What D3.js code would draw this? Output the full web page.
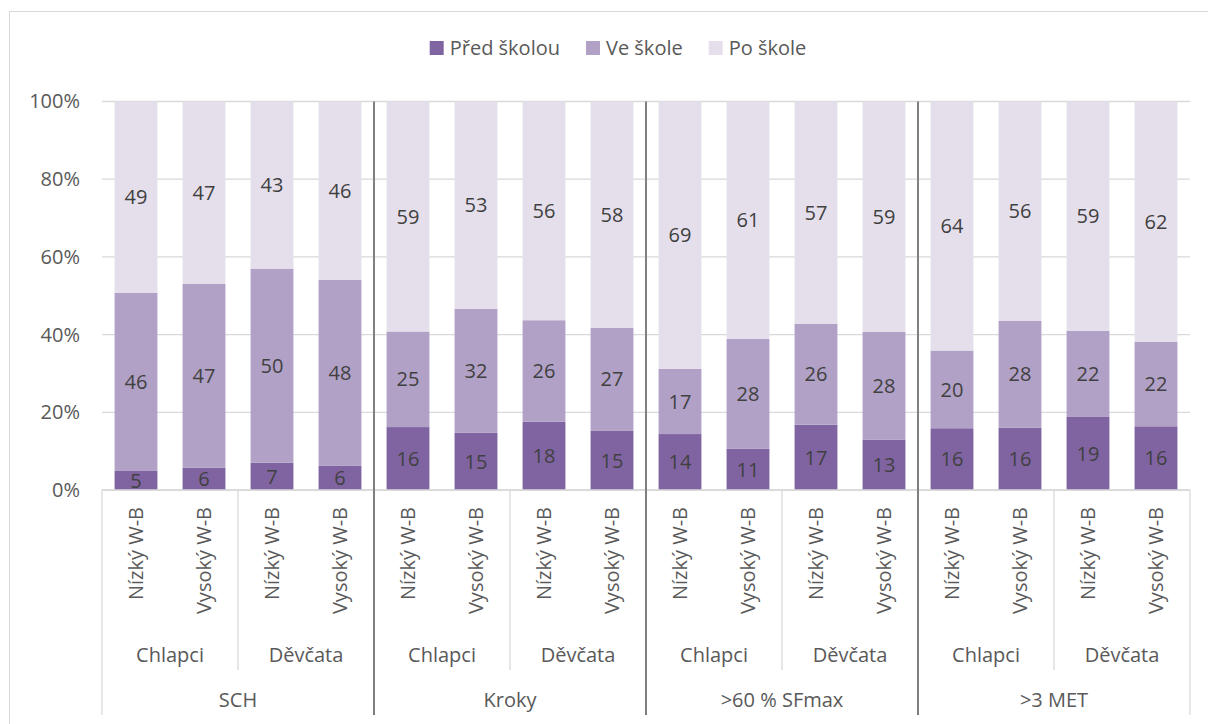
<!DOCTYPE html>
<html><head><meta charset="utf-8">
<script src="https://cdn.jsdelivr.net/npm/d3@7/dist/d3.min.js"></script>
<style>
html,body{margin:0;padding:0;background:#fff;}
svg{display:block;font-family:"Open Sans","Noto Sans",sans-serif;}
</style></head>
<body><svg id="c" width="1208" height="724"></svg>
<script>
const barLabels = ["Nízký W-B","Vysoký W-B","Nízký W-B","Vysoký W-B","Nízký W-B","Vysoký W-B","Nízký W-B","Vysoký W-B","Nízký W-B","Vysoký W-B","Nízký W-B","Vysoký W-B","Nízký W-B","Vysoký W-B","Nízký W-B","Vysoký W-B"];
const genderLabels = ["Chlapci","Děvčata","Chlapci","Děvčata","Chlapci","Děvčata","Chlapci","Děvčata"];
const measureLabels = ["SCH","Kroky",">60 % SFmax",">3 MET"];
const seriesNames = ["Před školou","Ve škole","Po škole"];
const predSkolou = [4.9,5.7,7.0,6.2,16.2,14.7,17.6,15.2,14.4,10.6,16.8,12.9,15.9,16.0,18.8,16.4];
const veSkole    = [45.9,47.4,50.0,47.9,24.6,31.9,26.1,26.6,16.8,28.3,26.0,27.8,20.0,27.6,22.2,21.7];
const poSkole    = [49.2,46.9,43.0,45.9,59.2,53.4,56.3,58.2,68.8,61.1,57.2,59.3,64.1,56.4,59.0,61.9];
const yTicks = [0,20,40,60,80,100];
const colors = ["#8064a2","#b2a1c7","#e5dfec"];

const svg = d3.select("#c");
const L = 102, R = 1190, T = 101.5, B = 490;
const fs = 20;

// outer chart border
svg.append("rect").attr("x",9.5).attr("y",11.5).attr("width",1240).attr("height",760)
  .attr("fill","none").attr("stroke","#d9d9d9").attr("stroke-width",1);

const idx = d3.range(barLabels.length);
const x = d3.scaleBand().domain(idx).range([L,R]).paddingInner(0.37).paddingOuter(0.185);
const y = d3.scaleLinear().domain([0,100]).range([B,T]);

// gridlines
svg.append("g").selectAll("line").data(yTicks).join("line")
  .attr("x1",L).attr("x2",R).attr("y1",d=>y(d)).attr("y2",d=>y(d))
  .attr("stroke","#d9d9d9").attr("stroke-width",1.3);

// y axis labels
const yAxis = d3.axisLeft(y).tickValues(yTicks).tickFormat(d=>d+"%").tickSize(0).tickPadding(22);
const ya = svg.append("g").attr("transform",`translate(${L},0)`).call(yAxis);
ya.select(".domain").remove();
ya.selectAll("text").attr("font-size",fs).attr("fill","#595959").attr("font-family","Open Sans");

// stacked data
const rows = idx.map(i=>({i, "Před školou":predSkolou[i], "Ve škole":veSkole[i], "Po škole":poSkole[i]}));
const stack = d3.stack().keys(seriesNames)(rows);

const gBars = svg.append("g");
stack.forEach((s,si)=>{
  const g = gBars.append("g");
  g.selectAll("rect").data(s).join("rect")
    .attr("x",d=>x(d.data.i)).attr("width",x.bandwidth())
    .attr("y",d=>y(d[1])).attr("height",d=>y(d[0])-y(d[1]))
    .attr("fill",colors[si]);
});
stack.forEach((s,si)=>{
  svg.append("g").selectAll("text").data(s).join("text")
    .attr("x",d=>x(d.data.i)+x.bandwidth()/2)
    .attr("y",d=>(y(d[0])+y(d[1]))/2)
    .attr("dy","0.36em")
    .attr("text-anchor","middle").attr("font-size",fs).attr("fill","#404040")
    .text(d=>Math.round(d[1]-d[0]));
});

// category axis structure
const step = x.step();
const axisBottom = 715;
const gCat = svg.append("g");
gCat.append("line").attr("x1",L).attr("x2",R).attr("y1",B).attr("y2",B).attr("stroke","#d9d9d9").attr("stroke-width",1.3);
[L,R].forEach(xx=>gCat.append("line").attr("x1",xx).attr("x2",xx).attr("y1",B).attr("y2",axisBottom).attr("stroke","#d9d9d9").attr("stroke-width",1.3));
d3.range(1,genderLabels.length).filter(k=>k%2===1).forEach(k=>{
  const xx = L + k*2*step;
  gCat.append("line").attr("x1",xx).attr("x2",xx).attr("y1",B).attr("y2",670).attr("stroke","#d9d9d9").attr("stroke-width",1.3);
});
d3.range(1,measureLabels.length).forEach(k=>{
  const xx = L + k*4*step;
  gCat.append("line").attr("x1",xx).attr("x2",xx).attr("y1",T).attr("y2",axisBottom).attr("stroke","#7f7f7f").attr("stroke-width",2);
});

// bar labels (rotated)
svg.append("g").selectAll("text").data(idx).join("text")
  .attr("transform",i=>`translate(${x(i)+x.bandwidth()/2},507) rotate(-90)`)
  .attr("dy","0.36em").attr("text-anchor","end").attr("font-size",fs).attr("fill","#595959")
  .text(i=>barLabels[i]);
svg.append("g").selectAll("text").data(genderLabels).join("text")
  .attr("x",(d,k)=>L + (k*2+1)*step).attr("y",655).attr("dy","0.36em")
  .attr("text-anchor","middle").attr("font-size",fs).attr("fill","#595959").text(d=>d);
svg.append("g").selectAll("text").data(measureLabels).join("text")
  .attr("x",(d,k)=>L + (k*4+2)*step).attr("y",700).attr("dy","0.36em")
  .attr("text-anchor","middle").attr("font-size",fs).attr("fill","#595959").text(d=>d);

// legend
const leg = svg.append("g");
let cx = 0;
seriesNames.forEach((n,si)=>{
  const g = leg.append("g").attr("transform",`translate(${cx},0)`);
  g.append("rect").attr("x",0).attr("y",-7).attr("width",14).attr("height",14).attr("fill",colors[si]);
  const t = g.append("text").attr("x",20).attr("y",0).attr("dy","0.36em").attr("font-size",fs).attr("fill","#595959").text(n);
  const w = t.node().getComputedTextLength();
  cx += 20 + w + 26;
});
const totalW = cx - 26;
leg.attr("transform",`translate(${618 - totalW/2},48)`);
</script></body></html>
